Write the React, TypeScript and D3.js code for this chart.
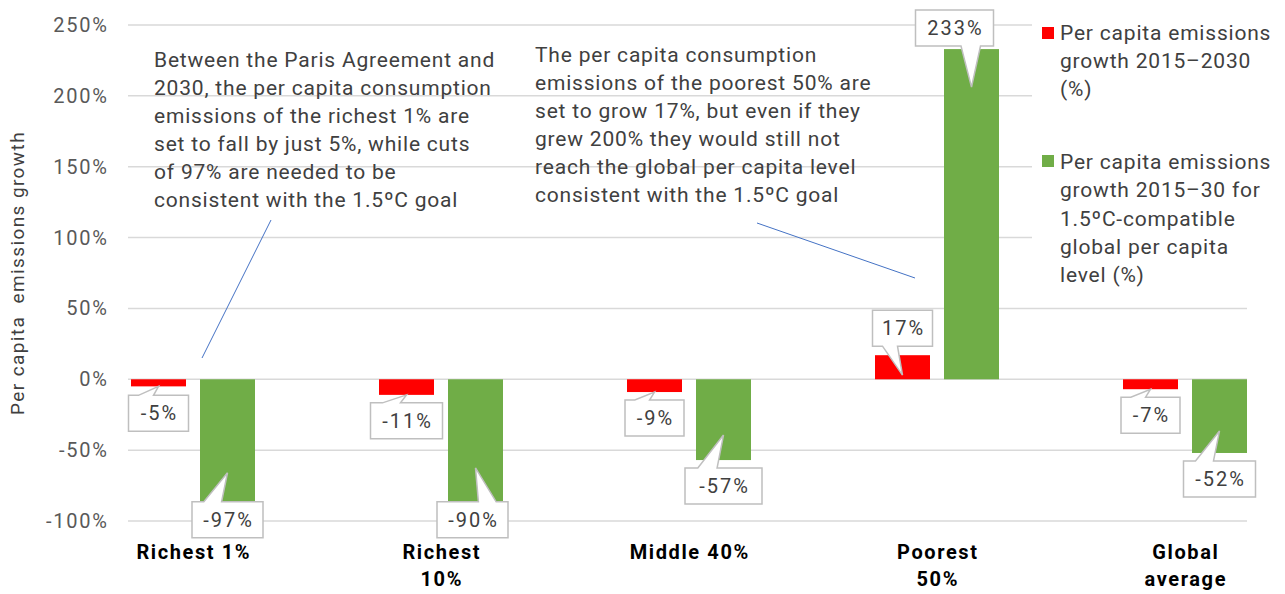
import React from "react";
import * as d3 from "d3";

// ---------- data ----------
const categories = ["Richest 1%", "Richest 10%", "Middle 40%", "Poorest 50%", "Global average"];
const categoryLines = [["Richest 1%"], ["Richest", "10%"], ["Middle 40%"], ["Poorest", "50%"], ["Global", "average"]];
const projectedGrowth = [-5, -11, -9, 17, -7];
const compatibleGrowth = [-97, -90, -57, 233, -52];
const yTicks = [-100, -50, 0, 50, 100, 150, 200, 250];
const seriesNames = [
  ["Per capita emissions", "growth 2015\u20132030", "(%)"],
  ["Per capita emissions", "growth 2015\u201330 for", "1.5\u00baC-compatible", "global per capita", "level (%)"],
];
const annotationRich = [
  "Between the Paris Agreement and",
  "2030, the per capita consumption",
  "emissions of the richest 1% are",
  "set to fall by just 5%, while cuts",
  "of 97% are needed to be",
  "consistent with the 1.5\u00baC goal",
];
const annotationPoor = [
  "The per capita consumption",
  "emissions of the poorest 50% are",
  "set to grow 17%, but even if they",
  "grew 200% they would still not",
  "reach the global per capita level",
  "consistent with the 1.5\u00baC goal",
];
const yAxisTitle = "Per capita  emissions growth";

// ---------- layout (not data) ----------
const W = 1285;
const H = 594;
const RED = "#FF0000";
const GREEN = "#70AD47";
const TEXT = "#404040";
const FONT = "Roboto, 'DejaVu Sans', sans-serif";
const BODY_FS = 21;
const BODY_LS = 0.8;
const NUM_FS = 20;
const NUM_LS = 2;

// callout placement: dx/dy of box centre relative to bar end, box width, tip dy relative to bar end
const redCallouts = [
  { dx: 0, dy: 27, w: 60, tip: 0 },
  { dx: 0, dy: 26, w: 72, tip: 0 },
  { dx: 0, dy: 26, w: 59, tip: 0 },
  { dx: 0, dy: -27, w: 60, tip: 20 },
  { dx: 0, dy: 26, w: 59, tip: 0 },
];
const greenCallouts = [
  { dx: 0, dy: 3, w: 71, tip: -44 },
  { dx: -3, dy: 13, w: 71, tip: -39 },
  { dx: 0, dy: 26, w: 77, tip: -25 },
  { dx: -17, dy: -21, w: 78, tip: 38 },
  { dx: 0, dy: 26, w: 72, tip: -22 },
];

function calloutPath(cx: number, cy: number, w: number, h: number, tx: number, ty: number) {
  const l = cx - w / 2, r = cx + w / 2, t = cy - h / 2, b = cy + h / 2;
  const left = tx <= cx + 1;
  const x1 = left ? l + (w * 2) / 12 : l + (w * 7) / 12;
  const x2 = left ? l + (w * 5) / 12 : l + (w * 10) / 12;
  if (ty < t) {
    return `M${l},${t}L${x1},${t}L${tx},${ty}L${x2},${t}L${r},${t}L${r},${b}L${l},${b}Z`;
  }
  return `M${l},${t}L${r},${t}L${r},${b}L${x2},${b}L${tx},${ty}L${x1},${b}L${l},${b}Z`;
}

export default function App() {
  const y = d3.scaleLinear().domain([-100, 250]).range([521, 25]);
  const x = d3.scaleBand<string>().domain(categories).range([69, 1309]).padding(0);
  const center = (i: number) => (x(categories[i]) as number) + x.bandwidth() / 2;
  const barW = 55;
  const redX = (i: number) => center(i) - 62;
  const greenX = (i: number) => center(i) + 7;

  const bars: any[] = [];
  const callouts: any[] = [];
  const addSeries = (vals: number[], bx: (i: number) => number, color: string, lay: any[], key: string) => {
    vals.forEach((v, i) => {
      const x0 = bx(i);
      const y0 = y(0);
      const y1 = y(v);
      bars.push(
        <rect key={key + i} x={x0} y={Math.min(y0, y1)} width={barW} height={Math.abs(y1 - y0)} fill={color} />
      );
      const c = lay[i];
      const bcx = x0 + barW / 2;
      const cx = bcx + c.dx;
      const cy = y1 + c.dy;
      const tx = bcx;
      const ty = y1 + c.tip;
      callouts.push(
        <g key={"c" + key + i}>
          <path d={calloutPath(cx, cy, c.w, 36, tx, ty)} fill="#FFFFFF" stroke="#BFBFBF" strokeWidth={1.5} />
          <text x={cx + NUM_LS / 2} y={cy + 7} textAnchor="middle" fontSize={NUM_FS} letterSpacing={NUM_LS} fill={TEXT}>
            {`${v}%`}
          </text>
        </g>
      );
    });
  };
  addSeries(projectedGrowth, redX, RED, redCallouts, "r");
  addSeries(compatibleGrowth, greenX, GREEN, greenCallouts, "g");

  return (
    <svg width={W} height={H} style={{ position: "absolute", left: 0, top: 0 }} fontFamily={FONT}>
      <rect width={W} height={H} fill="#FFFFFF" />
      {yTicks.map((t) => (
        <g key={t}>
          <line x1={128} x2={1247} y1={y(t)} y2={y(t)} stroke="#D9D9D9" strokeWidth={1.5} />
          <text x={107 + 1.8} y={y(t) + 7} textAnchor="end" fontSize={20} letterSpacing={1.8} fill="#595959">
            {`${t}%`}
          </text>
        </g>
      ))}
      <text transform={`translate(24,${273}) rotate(-90)`} textAnchor="middle" fontSize={19} letterSpacing={1.4} fill={TEXT} style={{ whiteSpace: "pre" }}>
        {yAxisTitle}
      </text>
      {bars}
      {/* legend background */}
      <rect x={1032} y={8} width={253} height={288} fill="#FFFFFF" />
      <rect x={1042} y={27} width={12} height={12} fill={RED} />
      {seriesNames[0].map((s, i) => (
        <text key={"l0" + i} x={1060} y={40 + i * 28} fontSize={BODY_FS} letterSpacing={BODY_LS} fill={TEXT}>{s}</text>
      ))}
      <rect x={1042} y={155} width={12} height={12} fill={GREEN} />
      {seriesNames[1].map((s, i) => (
        <text key={"l1" + i} x={1060} y={169 + i * 28.3} fontSize={BODY_FS} letterSpacing={BODY_LS} fill={TEXT}>{s}</text>
      ))}
      {callouts}
      {/* annotations */}
      {annotationRich.map((s, i) => (
        <text key={"a" + i} x={154} y={67 + i * 28} fontSize={BODY_FS} letterSpacing={BODY_LS} fill={TEXT}>{s}</text>
      ))}
      <line x1={271} y1={220} x2={202} y2={358} stroke="#4472C4" strokeWidth={1} />
      {annotationPoor.map((s, i) => (
        <text key={"b" + i} x={535} y={62 + i * 28} fontSize={BODY_FS} letterSpacing={BODY_LS} fill={TEXT}>{s}</text>
      ))}
      <line x1={757} y1={223} x2={915} y2={278} stroke="#4472C4" strokeWidth={1} />
      {categoryLines.map((lines, i) => (
        <text key={"x" + i} textAnchor="middle" fontSize={20} letterSpacing={1.6} fontWeight="bold" fill="#000000">
          {lines.map((s, j) => (
            <tspan key={j} x={center(i) + 0.8} y={559 + j * 27}>{s}</tspan>
          ))}
        </text>
      ))}
    </svg>
  );
}
